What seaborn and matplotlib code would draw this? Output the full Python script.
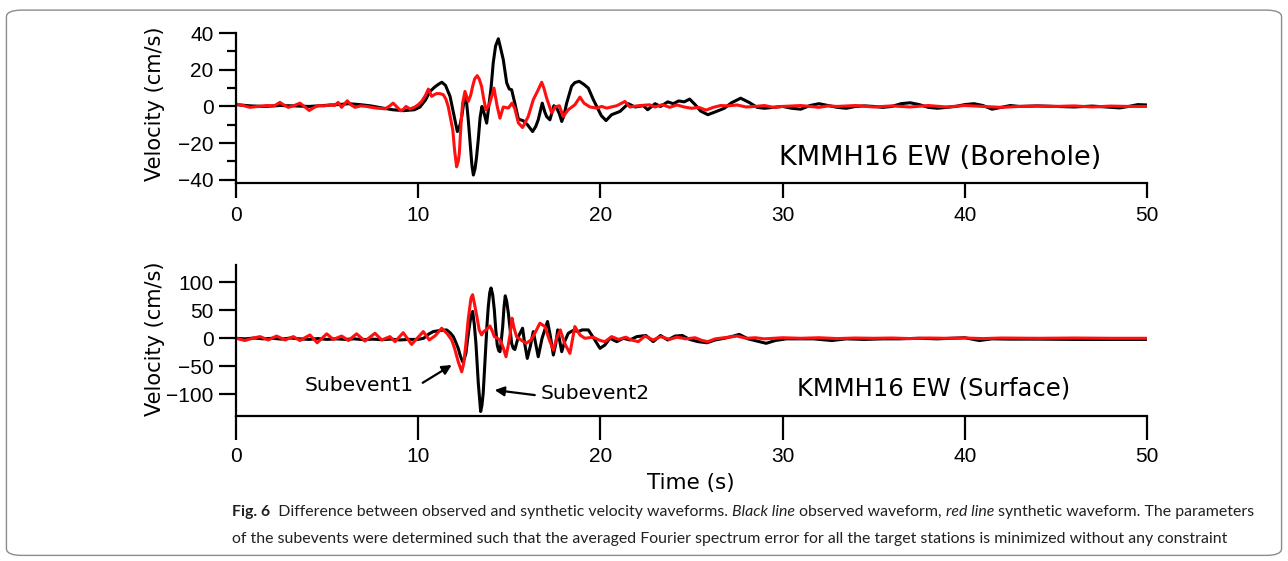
import numpy as np
import pandas as pd
import matplotlib
matplotlib.use("Agg")
import matplotlib.pyplot as plt
from matplotlib.patches import FancyBboxPatch
from matplotlib.ticker import MultipleLocator
import seaborn as sns

# --- data (time in s, velocity in cm/s) ---
bore_obs_t = [0.0, 0.8, 1.6, 2.4, 3.2, 4.0, 4.8, 5.6, 6.2, 6.8, 7.4, 8.0, 8.6, 9.2, 9.8, 10.1, 10.4,
              10.65, 10.9, 11.1, 11.3, 11.5, 11.75, 11.95, 12.15, 12.3, 12.4, 12.5, 12.57, 12.65, 12.75,
              12.85, 12.95, 13.03, 13.12, 13.2, 13.3, 13.4, 13.5, 13.6, 13.76, 13.9, 14.0, 14.12, 14.25,
              14.4, 14.52, 14.67, 14.86, 15.0, 15.13, 15.3, 15.5, 15.77, 16.0, 16.28, 16.45, 16.59, 16.81,
              16.95, 17.05, 17.23, 17.45, 17.6, 17.75, 17.88, 18.0, 18.15, 18.42, 18.6, 18.84, 19.1, 19.34,
              19.6, 19.8, 20.05, 20.31, 20.62, 21.08, 21.53, 21.9, 22.36, 22.6, 23.0, 23.3, 23.7, 24.0,
              24.3, 24.6, 24.9, 25.2, 25.5, 25.9, 26.3, 26.8, 27.2, 27.7, 28.2, 28.6, 29.0, 29.5, 30.0,
              30.5, 31.0, 31.5, 32.0, 32.5, 33.0, 33.5, 34.0, 34.5, 35.0, 35.5, 36.0, 36.5, 37.0, 37.5,
              38.0, 38.5, 39.0, 39.5, 40.0, 40.5, 41.0, 41.5, 42.0, 42.5, 43.0, 44.0, 45.0, 46.0, 47.0,
              48.0, 48.5, 49.0, 49.5, 50.0]
bore_obs_v = [1.0, 0.3, 0.0, 0.5, 0.3, 0.0, 0.5, 1.0, 1.5, 1.0, 0.3, -0.8, -1.8, -2.3, -1.8, -0.3, 3.5,
              8.2, 10.5, 12.0, 13.2, 11.5, 5.5, -4.0, -13.7, -10.0, -5.0, 2.0, 6.0, 3.0, -7.3,
              -20.0, -32.0, -37.4, -34.0, -28.0, -18.0, -6.0, 0.0, -3.0, -9.1, 1.8, 10.0, 23.8, 33.0,
              36.9, 32.0, 25.6, 12.8, 9.5, 9.1, 2.0, -6.9, -7.8, -10.0, -13.7, -11.0, -7.3, 1.8,
              -3.0, -5.5, -7.3, 0.4, -0.9, -4.0, -8.2, -5.0, 1.8, 11.0, 13.0, 13.7, 12.0, 10.0,
              4.0, 0.0, -5.0, -7.7, -4.5, -2.7, 1.5, -0.3, 0.4, -1.8, 1.5, 0.0, 2.5, 1.5,
              3.0, 2.5, 4.0, 1.0, -2.5, -4.5, -3.0, -1.0, 2.0, 4.5, 2.0, -0.5, -1.0, -0.5, 0.0,
              -1.0, -1.5, 0.5, 1.5, 0.5, -0.5, -1.0, 0.0, 0.3, 0.0, -0.5, 0.0, 1.5, 2.0, 1.0,
              -0.5, -1.0, -0.5, 0.0, 1.0, 1.5, 0.5, -1.5, -0.5, 0.5, 0.0, 0.3, 0.0, -0.3, 0.2,
              -0.5, -0.8, 0.0, 1.0, 0.8]

bore_syn_t = [0.0, 0.4, 0.77, 1.2, 1.68, 2.1, 2.41, 2.6, 2.87, 3.2, 3.51, 3.75, 4.02, 4.3, 4.52, 4.85,
              5.16, 5.4, 5.61, 5.8, 6.11, 6.3, 6.53, 6.85, 7.17, 7.45, 7.72, 8.18, 8.4, 8.63, 8.85, 9.04,
              9.2, 9.33, 9.55, 9.82, 10.0, 10.19, 10.4, 10.56, 10.74, 10.9, 11.02, 11.2, 11.38, 11.52,
              11.65, 11.9, 12.0, 12.11, 12.2, 12.26, 12.35, 12.44, 12.57, 12.75, 12.88, 12.99, 13.1,
              13.24, 13.35, 13.48, 13.6, 13.72, 13.9, 14.05, 14.16, 14.25, 14.34, 14.49, 14.67, 14.95,
              15.15, 15.3, 15.5, 15.73, 16.04, 16.32, 16.59, 16.78, 16.9, 17.05, 17.33, 17.51, 17.75,
              17.96, 18.24, 18.6, 18.88, 19.1, 19.43, 19.8, 20.07, 20.35, 20.9, 21.35, 21.62, 22.08,
              22.7, 23.0, 23.4, 23.8, 24.2, 24.6, 25.0, 25.4, 25.8, 26.2, 26.6, 27.0, 27.5, 28.0, 28.5,
              29.0, 29.5, 30.0, 31.0, 32.0, 32.5, 33.0, 34.0, 35.0, 36.0, 37.0, 38.0, 39.0, 40.0, 41.0,
              42.0, 43.0, 44.0, 45.0, 46.0, 47.0, 48.0, 49.0, 50.0]
bore_syn_v = [1.3, 0.5, -0.5, 0.0, 0.5, 0.3, 2.2, 1.0, -0.5, 0.5, 1.8, 0.0, -2.2, -0.5, 0.5, 0.3,
              0.9, 0.5, 2.2, -0.5, 3.1, 1.0, -0.5, 0.3, 0.0, -0.5, -0.9, -1.3, 0.0, 1.8, -0.5, -2.4,
              -1.5, 0.0, -1.4, -0.3, 0.9, 2.7, 6.0, 9.5, 5.5, 6.5, 7.0, 7.0, 6.4, 4.0,
              0.0, -12.8, -24.0, -32.9, -30.0, -25.5, -10.0, 1.8, 8.2, 2.7, 6.0, 11.0, 15.0,
              16.8, 15.0, 11.0, 4.0, -1.8, 0.9, 6.0, 10.0, 5.0, 0.0, -6.4, -0.3, -0.9,
              1.8, -1.0, -9.0, -11.5, -5.5, 3.7, 9.1, 13.2, 10.0, 4.6, -3.6, -0.3, 0.4,
              -5.5, -1.8, 0.9, 5.1, 1.8, -0.3, -0.9, 0.0, -0.9, 0.4, 2.7, -0.3, 0.4,
              0.9, -0.3, 1.0, -0.5, 0.8, -0.3, -1.0, -0.5, -2.0, -0.5, 0.5, 0.3, 0.8, -0.3, 0.0,
              0.5, -0.5, 0.0, 0.5, -0.5, 0.3, 0.0, 0.5, -0.3, 0.3, -0.3, 0.5, -0.3, 0.5, 0.0,
              -0.5, 0.0, 0.2, 0.0, 0.3, -0.3, 0.2, 0.0, 0.0]

surf_obs_t = [0.0, 0.5, 1.0, 1.5, 2.0, 2.5, 3.0, 3.5, 4.0, 4.5, 5.0, 5.5, 6.0, 6.5, 7.0, 7.5, 8.0,
              8.5, 9.0, 9.5, 10.0, 10.3, 10.6, 10.83, 11.2, 11.56, 11.75, 11.93, 12.05, 12.2, 12.32,
              12.44, 12.52, 12.62, 12.72, 12.81, 12.9, 12.99, 13.08, 13.17, 13.3, 13.43, 13.5, 13.57,
              13.65, 13.72, 13.78, 13.85, 13.93, 14.0, 14.09, 14.18, 14.26, 14.34, 14.42, 14.49, 14.56,
              14.64, 14.71, 14.78, 14.86, 14.95, 15.05, 15.13, 15.22, 15.31, 15.5, 15.73, 15.85, 15.99,
              16.15, 16.32, 16.45, 16.59, 16.8, 17.1, 17.25, 17.42, 17.55, 17.66, 17.88, 18.05, 18.24,
              18.5, 18.8, 19.0, 19.34, 19.6, 19.98, 20.25, 20.53, 20.9, 21.26, 21.62, 22.0, 22.5,
              22.9, 23.3, 23.7, 24.1, 24.5, 24.9, 25.36, 25.85, 26.3, 26.8, 27.2, 27.62, 28.1, 28.6,
              29.1, 29.6, 30.2, 30.8, 31.7, 32.7, 33.5, 34.5, 35.5, 36.4, 37.5, 38.5, 40.0, 40.8,
              41.5, 42.5, 44.0, 46.0, 48.0, 50.0]
surf_obs_v = [0.0, -1.0, 0.5, -1.0, 0.0, -1.5, 0.5, -1.0, -2.0, -0.5, -2.0, -1.0, -2.0, -1.0, -2.5,
              -1.5, -2.5, -1.5, -3.0, -2.0, -2.0, 0.0, 8.0, 12.0, 14.0, 15.0, 10.0, 3.0, -6.0, -18.0,
              -32.0, -42.0, -38.0, -27.0, 0.0, 21.0, 40.0, 48.0, 25.0, -9.0, -80.0, -131.0, -120.0,
              -98.0, -50.0, -9.0, 25.0, 57.0, 82.0, 90.0, 78.0, 51.0, 15.0, -12.0, -22.0, -24.0, -5.0,
              21.0, 55.0, 76.0, 66.0, 45.0, 15.0, -9.0, -18.0, -20.0, 3.0, 18.0, -10.0, -36.0,
              -15.0, 12.0, -10.0, -33.0, 0.0, 30.0, 5.0, -30.0, -10.0, 15.0, -24.0, -5.0, 9.0,
              14.0, 12.0, 15.0, 15.0, 2.0, -18.0, -12.0, 0.0, -6.0, 0.0, -3.0, 3.0, 5.0,
              -6.0, 5.0, -3.0, 4.0, 5.0, -2.0, -6.0, -8.0, -3.0, 0.0, 3.0, 7.0, -1.0, -5.0,
              -9.0, -4.0, -1.0, -1.0, -1.0, -4.0, -1.0, -2.0, -1.0, -1.0, 0.0, -1.0, 1.0, -4.0,
              -1.0, -1.5, -1.5, -2.0, -2.0, -2.0]

surf_syn_t = [0.0, 0.49, 0.9, 1.32, 1.77, 2.23, 2.69, 3.15, 3.51, 4.06, 4.46, 4.98, 5.34, 5.8, 6.17,
              6.62, 7.08, 7.63, 8.0, 8.45, 8.73, 9.18, 9.64, 10.28, 10.61, 10.95, 11.29, 11.6, 11.84,
              12.0, 12.2, 12.39, 12.5, 12.62, 12.75, 12.9, 12.99, 13.1, 13.24, 13.35, 13.48, 13.6,
              13.72, 13.94, 14.08, 14.18, 14.35, 14.49, 14.65, 14.82, 14.93, 15.04, 15.15, 15.25, 15.4,
              15.6, 15.92, 16.2, 16.45, 16.68, 16.96, 17.2, 17.42, 17.6, 17.8, 18.05, 18.33, 18.6,
              18.88, 19.15, 19.6, 20.0, 20.25, 20.62, 21.0, 21.4, 21.7, 22.08, 22.45, 22.9, 23.3, 23.8,
              24.2, 24.7, 25.2, 25.6, 25.9, 26.3, 26.8, 27.5, 28.0, 28.5, 29.0, 30.0, 31.0, 32.0, 33.0,
              34.0, 35.0, 36.0, 37.0, 38.0, 39.0, 40.0, 41.0, 42.0, 44.0, 46.0, 48.0, 50.0]
surf_syn_v = [0.0, -4.0, 0.0, 3.0, -3.0, 4.0, -3.0, 3.0, -4.0, 6.0, -8.0, 8.0, -2.0, 4.0, -4.0,
              8.0, -5.0, 9.0, -3.0, 3.0, -6.0, 10.0, -11.0, 12.0, -3.0, 5.0, 18.0, 8.0, -3.0,
              -18.0, -42.0, -60.0, -45.0, -10.0, 35.0, 72.0, 78.0, 60.0, 36.0, 15.0, 6.0, 12.0,
              15.0, 22.0, 12.0, 3.0, 0.0, -3.0, -15.0, -33.0, -15.0, 6.0, 36.0, 20.0, 3.0,
              -2.0, -9.0, -3.0, 12.0, 27.0, 21.0, -3.0, -21.0, 0.0, 15.0, -10.0, -27.0, 21.0,
              6.0, 0.0, 2.0, -4.0, -6.0, 3.0, -2.0, 2.0, -3.0, -6.0, 4.0, -3.0, 3.0, -2.0,
              2.0, -1.0, 1.0, -4.0, -6.0, -1.0, 1.0, 4.0, 0.0, 1.0, -1.0, 1.0, 0.0, 1.0, -0.5,
              0.5, 0.0, 0.5, -0.5, 0.5, 0.0, 0.5, -0.5, 0.5, 0.0, 0.5, 0.0, 0.0]

x_ticks = [0, 10, 20, 30, 40, 50]
bore_yticks = [-40, -20, 0, 20, 40]
surf_yticks = [-100, -50, 0, 50, 100]

# --- style ---
sns.set_theme(style="white")
plt.rcParams["font.family"] = ["Liberation Sans", "DejaVu Sans"]
plt.rcParams["axes.unicode_minus"] = True
for key in ["text.color", "axes.labelcolor", "xtick.color", "ytick.color"]:
    plt.rcParams[key] = "black"
RED = "#ff1010"

fig = plt.figure(figsize=(12.88, 5.61), dpi=100)

# rounded frame around figure + caption
frame = FancyBboxPatch((0.005, 0.01), 0.99, 0.972, boxstyle="round,pad=0,rounding_size=0.012",
                       transform=fig.transFigure, fill=False, ec="#8c8c8c", lw=1.0)
fig.patches.append(frame)

ax1 = fig.add_axes([0.1832, 0.673, 0.7073, 0.268])
ax2 = fig.add_axes([0.1832, 0.2585, 0.7073, 0.269])


def draw_panel(ax, obs_t, obs_v, syn_t, syn_v, label_y):
    obs = pd.DataFrame({"t": obs_t, "v": obs_v})
    syn = pd.DataFrame({"t": syn_t, "v": syn_v})
    sns.lineplot(data=obs, x="t", y="v", ax=ax, color="black", lw=2.2, estimator=None)
    sns.lineplot(data=syn, x="t", y="v", ax=ax, color=RED, lw=2.2, estimator=None)
    ax.set_xlim(0, 50)
    ax.set_xticks(x_ticks)
    for s in ["top", "right"]:
        ax.spines[s].set_visible(False)
    for s in ["left", "bottom"]:
        ax.spines[s].set_linewidth(1.6)
        ax.spines[s].set_color("black")
    ax.set_xlabel("")
    ax.set_ylabel("Velocity (cm/s)", fontsize=15, family="DejaVu Sans")
    ax.yaxis.set_label_coords(-0.078, label_y)
    ax.tick_params(axis="y", which="major", direction="out", length=12, width=1.6,
                   labelsize=15, pad=4, left=True)
    ax.tick_params(axis="x", which="major", direction="out", width=1.6,
                   labelsize=15, bottom=True)


draw_panel(ax1, bore_obs_t, bore_obs_v, bore_syn_t, bore_syn_v, 0.53)
ax1.set_ylim(-42, 40)
ax1.set_yticks(bore_yticks)
ax1.yaxis.set_minor_locator(MultipleLocator(10))
ax1.tick_params(axis="y", which="minor", direction="out", length=6.5, width=1.6, left=True)
ax1.tick_params(axis="x", length=11, pad=5)
ax1.text(47.5, -28, "KMMH16 EW (Borehole)", ha="right", va="center", fontsize=19.5,
         family="DejaVu Sans")

draw_panel(ax2, surf_obs_t, surf_obs_v, surf_syn_t, surf_syn_v, 0.51)
ax2.set_ylim(-139, 131)
ax2.set_yticks(surf_yticks)
ax2.tick_params(axis="x", length=17, pad=5)
ax2.text(45.8, -89, "KMMH16 EW (Surface)", ha="right", va="center", fontsize=17.5,
         family="DejaVu Sans")

arrow = dict(arrowstyle="-|>", color="black", lw=1.6, mutation_scale=14, shrinkA=0, shrinkB=0)
ax2.annotate("", xy=(11.84, -47.8), xytext=(10.25, -79.6), arrowprops=arrow)
ax2.text(9.77, -84, "Subevent1", ha="right", va="center", fontsize=14.5, family="DejaVu Sans")
ax2.annotate("", xy=(14.2, -92.6), xytext=(16.4, -101.6), arrowprops=arrow)
ax2.text(16.7, -99, "Subevent2", ha="left", va="center", fontsize=14.5, family="DejaVu Sans")

fig.text(0.5365, 0.139, "Time (s)", ha="center", va="center", fontsize=15.5, family="DejaVu Sans")

# --- caption ---
cap_font = ["Lato", "Liberation Sans", "DejaVu Sans"]
renderer = fig.canvas.get_renderer()

line1 = [("Fig. 6", "bold", "normal"),
         ("  Difference between observed and synthetic velocity waveforms. ", "normal", "normal"),
         ("Black line", "normal", "italic"),
         (" observed waveform, ", "normal", "normal"),
         ("red line", "normal", "italic"),
         (" synthetic waveform. The parameters", "normal", "normal")]
line2 = [("of the subevents were determined such that the averaged Fourier spectrum error "
          "for all the target stations is minimized without any constraint", "normal", "normal")]

# pick the caption size so the second line spans the same width as in the reference
probe = fig.text(0, 0, line2[0][0], fontsize=10, family=cap_font)
cap_size = 10 * 996 / probe.get_window_extent(renderer=renderer).width
probe.remove()


def caption_line(pieces, x0, y, size):
    x = x0
    for txt, weight, style in pieces:
        t = fig.text(x, y, txt, ha="left", va="baseline", fontsize=size, family=cap_font,
                     fontweight=weight, fontstyle=style, color="#231f20")
        bb = t.get_window_extent(renderer=renderer)
        x += bb.width / fig.bbox.width


caption_line(line1, 232 / 1288, 1 - 516 / 561, cap_size)
caption_line(line2, 232 / 1288, 1 - 543 / 561, cap_size)

fig.savefig("out.png", dpi=100)
